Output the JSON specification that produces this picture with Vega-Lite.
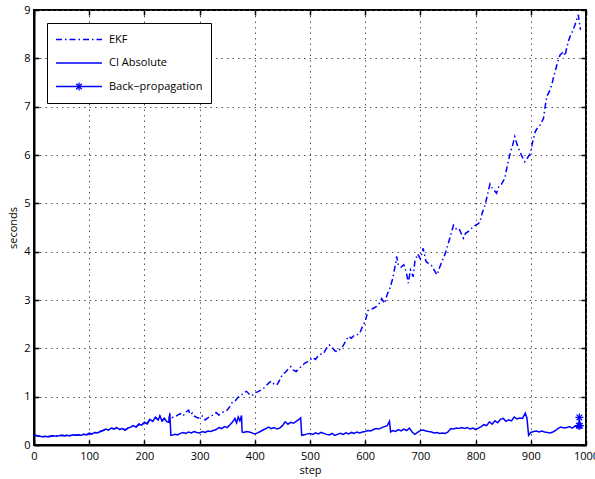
{
  "$schema": "https://vega.github.io/schema/vega-lite/v6.json",
  "width": 552,
  "height": 435,
  "padding": {"left": 34, "top": 10, "right": 9, "bottom": 34},
  "autosize": {"type": "none"},
  "background": "white",
  "config": {
    "font": "Open Sans",
    "view": {"stroke": "black", "strokeWidth": 2},
    "axis": {
      "labelFont": "Open Sans",
      "labelFontSize": 11,
      "labelColor": "black",
      "titleFont": "Open Sans",
      "titleFontSize": 11,
      "titleFontWeight": "normal",
      "titleColor": "black",
      "domainColor": "black",
      "domainWidth": 2,
      "tickColor": "black",
      "tickWidth": 1.5,
      "tickSize": -5,
      "gridColor": "#555555",
      "gridDash": [1.5, 4],
      "gridWidth": 1,
      "gridOpacity": 1
    }
  },
  "datasets": {
    "ekf": [
      {"step": 0, "seconds": 0.21}, {"step": 5, "seconds": 0.19}, {"step": 10, "seconds": 0.18}, {"step": 15, "seconds": 0.17},
      {"step": 20, "seconds": 0.18}, {"step": 25, "seconds": 0.17}, {"step": 30, "seconds": 0.18}, {"step": 35, "seconds": 0.19},
      {"step": 40, "seconds": 0.18}, {"step": 45, "seconds": 0.19}, {"step": 50, "seconds": 0.2}, {"step": 55, "seconds": 0.19},
      {"step": 60, "seconds": 0.2}, {"step": 65, "seconds": 0.19}, {"step": 70, "seconds": 0.21}, {"step": 75, "seconds": 0.2},
      {"step": 80, "seconds": 0.21}, {"step": 85, "seconds": 0.2}, {"step": 90, "seconds": 0.22}, {"step": 95, "seconds": 0.21},
      {"step": 100, "seconds": 0.24}, {"step": 105, "seconds": 0.23}, {"step": 110, "seconds": 0.26}, {"step": 115, "seconds": 0.25},
      {"step": 120, "seconds": 0.28}, {"step": 125, "seconds": 0.3}, {"step": 130, "seconds": 0.33}, {"step": 135, "seconds": 0.31},
      {"step": 140, "seconds": 0.35}, {"step": 145, "seconds": 0.33}, {"step": 150, "seconds": 0.36}, {"step": 155, "seconds": 0.32},
      {"step": 160, "seconds": 0.34}, {"step": 165, "seconds": 0.31}, {"step": 170, "seconds": 0.35}, {"step": 175, "seconds": 0.37},
      {"step": 180, "seconds": 0.4}, {"step": 185, "seconds": 0.37}, {"step": 190, "seconds": 0.43}, {"step": 195, "seconds": 0.41},
      {"step": 200, "seconds": 0.47}, {"step": 205, "seconds": 0.44}, {"step": 210, "seconds": 0.53}, {"step": 215, "seconds": 0.49},
      {"step": 220, "seconds": 0.57}, {"step": 225, "seconds": 0.52}, {"step": 228, "seconds": 0.6}, {"step": 232, "seconds": 0.5},
      {"step": 236, "seconds": 0.55}, {"step": 240, "seconds": 0.49}, {"step": 244, "seconds": 0.47}, {"step": 246, "seconds": 0.64},
      {"step": 250, "seconds": 0.57}, {"step": 255, "seconds": 0.58}, {"step": 260, "seconds": 0.62}, {"step": 265, "seconds": 0.65},
      {"step": 270, "seconds": 0.6}, {"step": 275, "seconds": 0.68}, {"step": 280, "seconds": 0.72}, {"step": 283, "seconds": 0.63},
      {"step": 287, "seconds": 0.66}, {"step": 290, "seconds": 0.6}, {"step": 295, "seconds": 0.57}, {"step": 300, "seconds": 0.55},
      {"step": 305, "seconds": 0.6}, {"step": 310, "seconds": 0.52}, {"step": 315, "seconds": 0.56}, {"step": 320, "seconds": 0.6},
      {"step": 325, "seconds": 0.62}, {"step": 330, "seconds": 0.67}, {"step": 335, "seconds": 0.62}, {"step": 340, "seconds": 0.66},
      {"step": 345, "seconds": 0.7}, {"step": 350, "seconds": 0.72}, {"step": 355, "seconds": 0.8}, {"step": 360, "seconds": 0.9},
      {"step": 365, "seconds": 0.92}, {"step": 370, "seconds": 0.99}, {"step": 375, "seconds": 1.02}, {"step": 380, "seconds": 1.08},
      {"step": 385, "seconds": 1.11}, {"step": 390, "seconds": 1.05}, {"step": 395, "seconds": 1.02}, {"step": 400, "seconds": 1.08},
      {"step": 405, "seconds": 1.1}, {"step": 410, "seconds": 1.13}, {"step": 415, "seconds": 1.16}, {"step": 420, "seconds": 1.22},
      {"step": 425, "seconds": 1.28}, {"step": 430, "seconds": 1.32}, {"step": 435, "seconds": 1.26}, {"step": 440, "seconds": 1.24},
      {"step": 445, "seconds": 1.34}, {"step": 450, "seconds": 1.46}, {"step": 455, "seconds": 1.5}, {"step": 460, "seconds": 1.56},
      {"step": 465, "seconds": 1.62}, {"step": 470, "seconds": 1.55}, {"step": 475, "seconds": 1.52}, {"step": 480, "seconds": 1.59},
      {"step": 485, "seconds": 1.62}, {"step": 490, "seconds": 1.69}, {"step": 495, "seconds": 1.72}, {"step": 500, "seconds": 1.76},
      {"step": 505, "seconds": 1.81}, {"step": 510, "seconds": 1.77}, {"step": 515, "seconds": 1.85}, {"step": 520, "seconds": 1.88},
      {"step": 525, "seconds": 1.9}, {"step": 530, "seconds": 2.01}, {"step": 535, "seconds": 2.07}, {"step": 540, "seconds": 2.02},
      {"step": 545, "seconds": 1.95}, {"step": 550, "seconds": 1.93}, {"step": 555, "seconds": 1.99}, {"step": 560, "seconds": 2.05},
      {"step": 565, "seconds": 2.16}, {"step": 570, "seconds": 2.25}, {"step": 575, "seconds": 2.21}, {"step": 580, "seconds": 2.27},
      {"step": 585, "seconds": 2.28}, {"step": 590, "seconds": 2.31}, {"step": 595, "seconds": 2.45}, {"step": 600, "seconds": 2.55},
      {"step": 605, "seconds": 2.78}, {"step": 610, "seconds": 2.8}, {"step": 615, "seconds": 2.83}, {"step": 620, "seconds": 2.86},
      {"step": 625, "seconds": 2.92}, {"step": 630, "seconds": 3.03}, {"step": 635, "seconds": 2.93}, {"step": 640, "seconds": 3.12},
      {"step": 645, "seconds": 3.25}, {"step": 650, "seconds": 3.45}, {"step": 655, "seconds": 3.75}, {"step": 657, "seconds": 3.9},
      {"step": 660, "seconds": 3.72}, {"step": 665, "seconds": 3.68}, {"step": 670, "seconds": 3.73}, {"step": 675, "seconds": 3.55},
      {"step": 678, "seconds": 3.35}, {"step": 682, "seconds": 3.62}, {"step": 687, "seconds": 3.48}, {"step": 690, "seconds": 3.8},
      {"step": 695, "seconds": 3.95}, {"step": 700, "seconds": 3.85}, {"step": 705, "seconds": 4.07}, {"step": 710, "seconds": 3.8},
      {"step": 715, "seconds": 3.75}, {"step": 720, "seconds": 3.72}, {"step": 725, "seconds": 3.62}, {"step": 730, "seconds": 3.52},
      {"step": 735, "seconds": 3.68}, {"step": 740, "seconds": 3.82}, {"step": 745, "seconds": 3.96}, {"step": 750, "seconds": 4.15},
      {"step": 755, "seconds": 4.35}, {"step": 760, "seconds": 4.55}, {"step": 765, "seconds": 4.47}, {"step": 770, "seconds": 4.48},
      {"step": 775, "seconds": 4.35}, {"step": 778, "seconds": 4.28}, {"step": 782, "seconds": 4.38}, {"step": 787, "seconds": 4.42},
      {"step": 790, "seconds": 4.46}, {"step": 795, "seconds": 4.5}, {"step": 800, "seconds": 4.55}, {"step": 805, "seconds": 4.58},
      {"step": 808, "seconds": 4.62}, {"step": 812, "seconds": 4.8}, {"step": 817, "seconds": 4.96}, {"step": 822, "seconds": 5.2},
      {"step": 826, "seconds": 5.4}, {"step": 830, "seconds": 5.32}, {"step": 835, "seconds": 5.25}, {"step": 838, "seconds": 5.21},
      {"step": 842, "seconds": 5.35}, {"step": 847, "seconds": 5.4}, {"step": 853, "seconds": 5.52}, {"step": 856, "seconds": 5.7},
      {"step": 859, "seconds": 5.86}, {"step": 863, "seconds": 6.05}, {"step": 867, "seconds": 6.2}, {"step": 871, "seconds": 6.38},
      {"step": 875, "seconds": 6.22}, {"step": 880, "seconds": 6.07}, {"step": 885, "seconds": 5.95}, {"step": 889, "seconds": 5.86},
      {"step": 893, "seconds": 5.92}, {"step": 899, "seconds": 6.03}, {"step": 903, "seconds": 6.25}, {"step": 908, "seconds": 6.48},
      {"step": 913, "seconds": 6.58}, {"step": 917, "seconds": 6.62}, {"step": 923, "seconds": 6.76}, {"step": 926, "seconds": 7.0},
      {"step": 929, "seconds": 7.21}, {"step": 933, "seconds": 7.3}, {"step": 938, "seconds": 7.45}, {"step": 941, "seconds": 7.6},
      {"step": 944, "seconds": 7.72}, {"step": 948, "seconds": 7.9}, {"step": 953, "seconds": 8.07}, {"step": 956, "seconds": 8.1},
      {"step": 959, "seconds": 8.14}, {"step": 962, "seconds": 8.05}, {"step": 965, "seconds": 8.21}, {"step": 968, "seconds": 8.35},
      {"step": 971, "seconds": 8.45}, {"step": 975, "seconds": 8.55}, {"step": 980, "seconds": 8.69}, {"step": 983, "seconds": 8.8},
      {"step": 986, "seconds": 8.9}, {"step": 988, "seconds": 8.75}, {"step": 990, "seconds": 8.59}
    ],
    "ci": [
      {"step": 0, "seconds": 0.21}, {"step": 5, "seconds": 0.19}, {"step": 10, "seconds": 0.18}, {"step": 15, "seconds": 0.17},
      {"step": 20, "seconds": 0.18}, {"step": 25, "seconds": 0.17}, {"step": 30, "seconds": 0.18}, {"step": 35, "seconds": 0.19},
      {"step": 40, "seconds": 0.18}, {"step": 45, "seconds": 0.19}, {"step": 50, "seconds": 0.2}, {"step": 55, "seconds": 0.19},
      {"step": 60, "seconds": 0.2}, {"step": 65, "seconds": 0.19}, {"step": 70, "seconds": 0.21}, {"step": 75, "seconds": 0.2},
      {"step": 80, "seconds": 0.21}, {"step": 85, "seconds": 0.2}, {"step": 90, "seconds": 0.22}, {"step": 95, "seconds": 0.21},
      {"step": 100, "seconds": 0.24}, {"step": 105, "seconds": 0.23}, {"step": 110, "seconds": 0.26}, {"step": 115, "seconds": 0.25},
      {"step": 120, "seconds": 0.28}, {"step": 125, "seconds": 0.3}, {"step": 130, "seconds": 0.33}, {"step": 135, "seconds": 0.31},
      {"step": 140, "seconds": 0.35}, {"step": 145, "seconds": 0.33}, {"step": 150, "seconds": 0.36}, {"step": 155, "seconds": 0.32},
      {"step": 160, "seconds": 0.34}, {"step": 165, "seconds": 0.31}, {"step": 170, "seconds": 0.35}, {"step": 175, "seconds": 0.37},
      {"step": 180, "seconds": 0.4}, {"step": 185, "seconds": 0.37}, {"step": 190, "seconds": 0.43}, {"step": 195, "seconds": 0.41},
      {"step": 200, "seconds": 0.47}, {"step": 205, "seconds": 0.44}, {"step": 210, "seconds": 0.53}, {"step": 215, "seconds": 0.49},
      {"step": 220, "seconds": 0.57}, {"step": 225, "seconds": 0.52}, {"step": 228, "seconds": 0.6}, {"step": 232, "seconds": 0.5},
      {"step": 236, "seconds": 0.55}, {"step": 240, "seconds": 0.49}, {"step": 244, "seconds": 0.47}, {"step": 246, "seconds": 0.64},
      {"step": 248, "seconds": 0.2}, {"step": 250, "seconds": 0.2}, {"step": 255, "seconds": 0.22}, {"step": 260, "seconds": 0.21},
      {"step": 265, "seconds": 0.24}, {"step": 270, "seconds": 0.26}, {"step": 275, "seconds": 0.24}, {"step": 280, "seconds": 0.27},
      {"step": 285, "seconds": 0.25}, {"step": 290, "seconds": 0.28}, {"step": 295, "seconds": 0.26}, {"step": 300, "seconds": 0.25},
      {"step": 305, "seconds": 0.28}, {"step": 310, "seconds": 0.26}, {"step": 315, "seconds": 0.29}, {"step": 320, "seconds": 0.28},
      {"step": 325, "seconds": 0.3}, {"step": 330, "seconds": 0.32}, {"step": 335, "seconds": 0.36}, {"step": 340, "seconds": 0.34},
      {"step": 345, "seconds": 0.38}, {"step": 350, "seconds": 0.36}, {"step": 355, "seconds": 0.42}, {"step": 360, "seconds": 0.48},
      {"step": 364, "seconds": 0.55}, {"step": 367, "seconds": 0.46}, {"step": 370, "seconds": 0.58}, {"step": 373, "seconds": 0.5},
      {"step": 376, "seconds": 0.61}, {"step": 377, "seconds": 0.27}, {"step": 380, "seconds": 0.26}, {"step": 385, "seconds": 0.28},
      {"step": 390, "seconds": 0.27}, {"step": 395, "seconds": 0.25}, {"step": 400, "seconds": 0.23}, {"step": 405, "seconds": 0.25},
      {"step": 410, "seconds": 0.28}, {"step": 415, "seconds": 0.31}, {"step": 420, "seconds": 0.34}, {"step": 425, "seconds": 0.37},
      {"step": 430, "seconds": 0.34}, {"step": 435, "seconds": 0.36}, {"step": 440, "seconds": 0.33}, {"step": 445, "seconds": 0.35},
      {"step": 450, "seconds": 0.4}, {"step": 455, "seconds": 0.48}, {"step": 460, "seconds": 0.43}, {"step": 465, "seconds": 0.47},
      {"step": 470, "seconds": 0.45}, {"step": 475, "seconds": 0.49}, {"step": 480, "seconds": 0.53}, {"step": 483, "seconds": 0.56},
      {"step": 485, "seconds": 0.2}, {"step": 490, "seconds": 0.21}, {"step": 495, "seconds": 0.23}, {"step": 500, "seconds": 0.24},
      {"step": 505, "seconds": 0.22}, {"step": 510, "seconds": 0.25}, {"step": 515, "seconds": 0.23}, {"step": 520, "seconds": 0.26},
      {"step": 525, "seconds": 0.24}, {"step": 530, "seconds": 0.22}, {"step": 535, "seconds": 0.21}, {"step": 540, "seconds": 0.24},
      {"step": 545, "seconds": 0.2}, {"step": 550, "seconds": 0.22}, {"step": 555, "seconds": 0.24}, {"step": 560, "seconds": 0.22},
      {"step": 565, "seconds": 0.25}, {"step": 570, "seconds": 0.23}, {"step": 575, "seconds": 0.26}, {"step": 580, "seconds": 0.24},
      {"step": 585, "seconds": 0.27}, {"step": 590, "seconds": 0.25}, {"step": 595, "seconds": 0.27}, {"step": 600, "seconds": 0.28},
      {"step": 605, "seconds": 0.3}, {"step": 610, "seconds": 0.29}, {"step": 615, "seconds": 0.32}, {"step": 620, "seconds": 0.34},
      {"step": 625, "seconds": 0.33}, {"step": 630, "seconds": 0.36}, {"step": 635, "seconds": 0.38}, {"step": 640, "seconds": 0.4},
      {"step": 644, "seconds": 0.49}, {"step": 646, "seconds": 0.27}, {"step": 650, "seconds": 0.3}, {"step": 655, "seconds": 0.28},
      {"step": 660, "seconds": 0.32}, {"step": 665, "seconds": 0.29}, {"step": 670, "seconds": 0.33}, {"step": 675, "seconds": 0.3},
      {"step": 680, "seconds": 0.35}, {"step": 685, "seconds": 0.27}, {"step": 690, "seconds": 0.22}, {"step": 695, "seconds": 0.26},
      {"step": 700, "seconds": 0.3}, {"step": 705, "seconds": 0.31}, {"step": 710, "seconds": 0.29}, {"step": 715, "seconds": 0.28},
      {"step": 720, "seconds": 0.27}, {"step": 725, "seconds": 0.25}, {"step": 730, "seconds": 0.26}, {"step": 735, "seconds": 0.24},
      {"step": 740, "seconds": 0.25}, {"step": 745, "seconds": 0.24}, {"step": 750, "seconds": 0.27}, {"step": 755, "seconds": 0.34},
      {"step": 760, "seconds": 0.33}, {"step": 765, "seconds": 0.35}, {"step": 770, "seconds": 0.34}, {"step": 775, "seconds": 0.36},
      {"step": 780, "seconds": 0.34}, {"step": 785, "seconds": 0.36}, {"step": 790, "seconds": 0.33}, {"step": 795, "seconds": 0.35},
      {"step": 800, "seconds": 0.32}, {"step": 805, "seconds": 0.35}, {"step": 810, "seconds": 0.38}, {"step": 815, "seconds": 0.42},
      {"step": 820, "seconds": 0.4}, {"step": 825, "seconds": 0.48}, {"step": 830, "seconds": 0.43}, {"step": 835, "seconds": 0.5},
      {"step": 840, "seconds": 0.46}, {"step": 845, "seconds": 0.53}, {"step": 850, "seconds": 0.55}, {"step": 855, "seconds": 0.49},
      {"step": 860, "seconds": 0.52}, {"step": 865, "seconds": 0.5}, {"step": 870, "seconds": 0.58}, {"step": 875, "seconds": 0.54},
      {"step": 880, "seconds": 0.56}, {"step": 885, "seconds": 0.55}, {"step": 890, "seconds": 0.66}, {"step": 893, "seconds": 0.56},
      {"step": 896, "seconds": 0.2}, {"step": 900, "seconds": 0.26}, {"step": 905, "seconds": 0.28}, {"step": 910, "seconds": 0.29},
      {"step": 915, "seconds": 0.27}, {"step": 920, "seconds": 0.29}, {"step": 925, "seconds": 0.27}, {"step": 930, "seconds": 0.26},
      {"step": 935, "seconds": 0.25}, {"step": 940, "seconds": 0.27}, {"step": 945, "seconds": 0.3}, {"step": 950, "seconds": 0.35},
      {"step": 955, "seconds": 0.37}, {"step": 960, "seconds": 0.35}, {"step": 965, "seconds": 0.36}, {"step": 970, "seconds": 0.38},
      {"step": 975, "seconds": 0.35}, {"step": 980, "seconds": 0.39}, {"step": 985, "seconds": 0.37}, {"step": 989, "seconds": 0.41}
    ],
    "bp": [
      {"step": 987, "seconds": 0.4},
      {"step": 988, "seconds": 0.57},
      {"step": 989, "seconds": 0.4}
    ]
  },
  "layer": [
    {
      "data": {"name": "ekf"},
      "mark": {"type": "line", "strokeWidth": 1.5, "strokeDash": [6, 3, 1.5, 3], "interpolate": "linear"},
      "encoding": {
        "x": {
          "field": "step", "type": "quantitative",
          "scale": {"domain": [0, 1000], "nice": false, "zero": false},
          "axis": {
            "orient": "bottom", "title": "step", "values": [0, 100, 200, 300, 400, 500, 600, 700, 800, 900, 1000],
            "format": "d", "grid": true, "labelPadding": 10, "titlePadding": 3, "labelFlush": false, "labelOverlap": false
          }
        },
        "y": {
          "field": "seconds", "type": "quantitative",
          "scale": {"domain": [0, 9], "nice": false},
          "axis": {
            "orient": "left", "title": "seconds", "values": [0, 1, 2, 3, 4, 5, 6, 7, 8, 9],
            "format": "d", "grid": true, "labelPadding": 9, "titlePadding": 5, "labelOverlap": false
          }
        },
        "color": {
          "datum": "EKF", "type": "nominal",
          "scale": {"domain": ["EKF", "CI Absolute", "Back−propagation"], "range": ["#0000ff", "#0000ff", "#0000ff"]},
          "legend": {
            "title": null,
            "orient": "top-left",
            "offset": 13,
            "padding": 8,
            "fillColor": "white",
            "strokeColor": "black",
            "symbolType": "stroke",
            "symbolSize": 2116,
            "symbolStrokeWidth": 1.3,
            "symbolOffset": 0,
            "clipHeight": 17,
            "rowPadding": 6.5,
            "labelFont": "Open Sans",
            "labelFontSize": 11,
            "labelColor": "black",
            "labelOffset": 6,
            "labelLimit": 300,
            "labelExpr": "datum.label + '\u00a0\u00a0\u00a0\u00a0\u00a0\u00a0\u00a0\u00a0\u00a0\u00a0\u00a0\u00a0\u00a0'",
            "encode": {
              "symbols": {
                "update": {
                  "shape": {"signal": "datum.value === 'Back−propagation' ? 'M-1,0L1,0M0,-0.17L0,0.17M-0.17,0L0.17,0M-0.12,-0.12L0.12,0.12M-0.12,0.12L0.12,-0.12' : 'stroke'"},
                  "strokeDash": {"signal": "datum.value === 'EKF' ? [6, 3, 1.5, 3] : []"}
                }
              }
            }
          }
        }
      }
    },
    {
      "data": {"name": "ci"},
      "mark": {"type": "line", "strokeWidth": 1.5},
      "encoding": {
        "x": {
          "field": "step", "type": "quantitative",
          "axis": {"orient": "top", "title": null, "labels": false, "grid": false, "domain": false,
                   "values": [0, 100, 200, 300, 400, 500, 600, 700, 800, 900, 1000]}
        },
        "y": {
          "field": "seconds", "type": "quantitative",
          "axis": {"orient": "right", "title": null, "labels": false, "grid": false, "domain": false,
                   "values": [0, 1, 2, 3, 4, 5, 6, 7, 8, 9]}
        },
        "color": {"datum": "CI Absolute", "type": "nominal"}
      }
    },
    {
      "data": {"name": "bp"},
      "mark": {"type": "line", "strokeWidth": 1.5},
      "encoding": {
        "x": {"field": "step", "type": "quantitative", "axis": null},
        "y": {"field": "seconds", "type": "quantitative", "axis": null},
        "color": {"datum": "Back−propagation", "type": "nominal"}
      }
    },
    {
      "data": {"name": "bp"},
      "mark": {
        "type": "point", "filled": false, "color": "#0000ff", "strokeWidth": 1.2, "opacity": 1, "size": 64,
        "shape": "M0,-1L0,1M-1,0L1,0M-0.7,-0.7L0.7,0.7M-0.7,0.7L0.7,-0.7"
      },
      "encoding": {
        "x": {"field": "step", "type": "quantitative", "axis": null},
        "y": {"field": "seconds", "type": "quantitative", "axis": null}
      }
    }
  ],
  "resolve": {"axis": {"x": "independent", "y": "independent"}}
}
